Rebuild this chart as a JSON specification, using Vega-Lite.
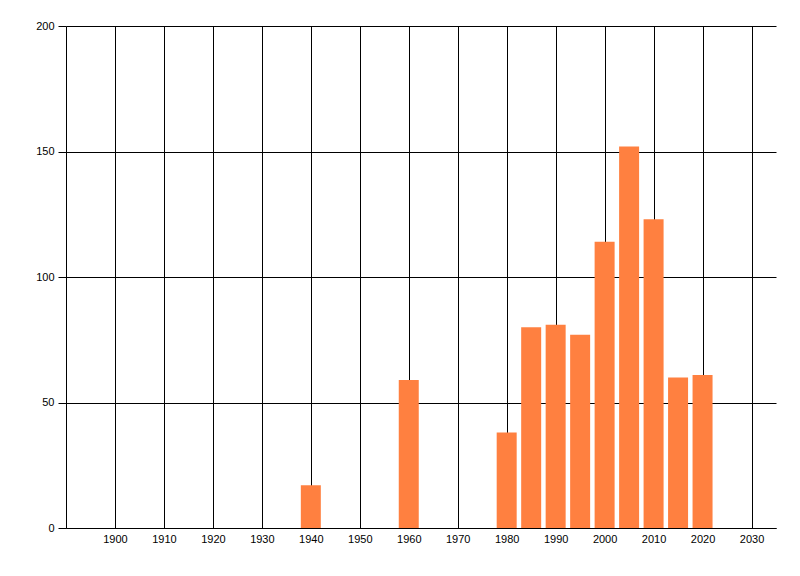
{
  "$schema": "https://vega.github.io/schema/vega-lite/v6.json",
  "autosize": {"type": "none"},
  "padding": {"left": 66, "top": 26, "right": 24, "bottom": 48},
  "width": 710,
  "height": 502,
  "background": "white",
  "config": {
    "view": {"stroke": null},
    "font": "Liberation Sans",
    "axis": {
      "labelFont": "Liberation Sans",
      "labelFontSize": 11,
      "labelColor": "#000000",
      "domainColor": "#000000",
      "domainWidth": 1,
      "gridColor": "#000000",
      "gridOpacity": 1,
      "gridWidth": 1,
      "tickColor": "#000000",
      "title": null
    }
  },
  "data": {
    "values": [
      {"year": 1940, "count": 17},
      {"year": 1960, "count": 59},
      {"year": 1980, "count": 38},
      {"year": 1985, "count": 80},
      {"year": 1990, "count": 81},
      {"year": 1995, "count": 77},
      {"year": 2000, "count": 114},
      {"year": 2005, "count": 152},
      {"year": 2010, "count": 123},
      {"year": 2015, "count": 60},
      {"year": 2020, "count": 61}
    ]
  },
  "mark": {"type": "bar", "width": 20, "color": "#FF8040"},
  "encoding": {
    "x": {
      "field": "year",
      "type": "quantitative",
      "scale": {"domain": [1890, 2035], "nice": false, "zero": false, "padding": 0},
      "axis": {
        "values": [1900, 1910, 1920, 1930, 1940, 1950, 1960, 1970, 1980, 1990, 2000, 2010, 2020, 2030],
        "format": "d",
        "grid": true,
        "ticks": false,
        "labelPadding": 5,
        "labelFlush": false,
        "labelOverlap": false
      }
    },
    "y": {
      "field": "count",
      "type": "quantitative",
      "scale": {"domain": [0, 200], "nice": false},
      "axis": {
        "values": [0, 50, 100, 150, 200],
        "grid": true,
        "ticks": true,
        "tickSize": 8,
        "labelPadding": 4,
        "labelFlush": false,
        "labelOverlap": false
      }
    }
  }
}
